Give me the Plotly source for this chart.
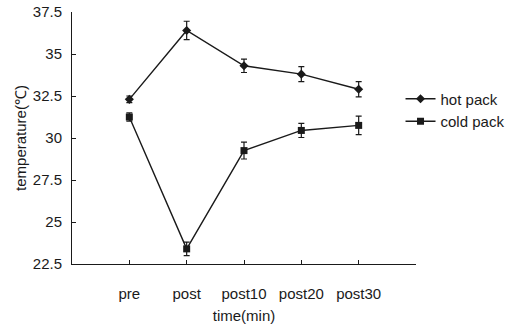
import plotly.graph_objects as go

# Skin temperature over time for hot and cold pack application
time_labels = ["pre", "post", "post10", "post20", "post30"]
hot_pack = [32.3, 36.4, 34.3, 33.8, 32.9]
hot_pack_err = [0.2, 0.55, 0.4, 0.45, 0.45]
cold_pack = [31.25, 23.4, 29.25, 30.45, 30.75]
cold_pack_err = [0.25, 0.4, 0.5, 0.42, 0.55]

y_ticks = [22.5, 25, 27.5, 30, 32.5, 35, 37.5]
y_tick_text = ["22.5", "25", "27.5", "30", "32.5", "35", "37.5"]

x_pos = list(range(1, len(time_labels) + 1))
# an extra unlabeled tick closes the category axis at its right end
x_ticks = x_pos + [len(time_labels) + 1]
x_tick_text = time_labels + [""]
ink = "#1a1a1a"
font_family = "Liberation Sans, Arial, sans-serif"

fig = go.Figure()
fig.add_trace(go.Scatter(
    x=x_pos, y=hot_pack, name="hot pack", mode="lines+markers",
    line=dict(color=ink, width=1.4),
    marker=dict(symbol="diamond", size=7, color=ink),
    error_y=dict(type="data", array=hot_pack_err, color=ink, thickness=1.2, width=3),
))
fig.add_trace(go.Scatter(
    x=x_pos, y=cold_pack, name="cold pack", mode="lines+markers",
    line=dict(color=ink, width=1.4),
    marker=dict(symbol="square", size=7, color=ink),
    error_y=dict(type="data", array=cold_pack_err, color=ink, thickness=1.2, width=3),
))

fig.update_layout(
    width=509, height=334,
    margin=dict(l=72, r=93, t=12, b=70, autoexpand=False),
    paper_bgcolor="white", plot_bgcolor="white",
    font=dict(family=font_family, size=15, color=ink),
    showlegend=True,
    legend=dict(
        x=0.955, y=0.611, xanchor="left", yanchor="middle",
        bgcolor="rgba(0,0,0,0)", font=dict(size=15),
        itemwidth=30, tracegroupgap=9,
    ),
    xaxis=dict(
        range=[0, 6], tickmode="array", tickvals=x_ticks, ticktext=x_tick_text,
        showline=True, linecolor=ink, linewidth=1, ticks="inside", ticklen=4,
        tickcolor=ink, showgrid=False, zeroline=False, automargin=False,
        tickfont=dict(size=15), ticklabelstandoff=16,
        title=dict(text="time(min)", standoff=9, font=dict(size=15)),
    ),
    yaxis=dict(
        range=[22.5, 37.5], tickmode="array", tickvals=y_ticks, ticktext=y_tick_text,
        showline=True, linecolor=ink, linewidth=1, ticks="inside", ticklen=4,
        tickcolor=ink, showgrid=False, zeroline=False, automargin=False,
        tickfont=dict(size=15), ticklabelstandoff=6,
        title=dict(text="temperature(℃)", standoff=2, font=dict(size=15)),
    ),
)

fig.write_html("out.html")
